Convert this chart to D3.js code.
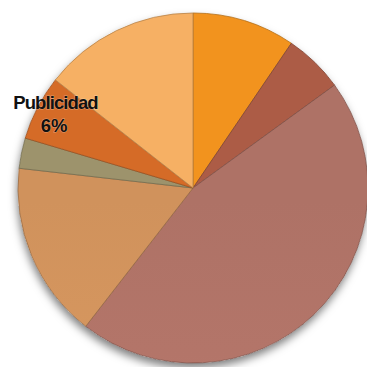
<!DOCTYPE html>
<html>
<head>
<meta charset="utf-8">
<script src="https://cdn.jsdelivr.net/npm/d3@7"></script>
<style>
  html, body { margin: 0; padding: 0; background: #fff; }
  svg { display: block; }
</style>
</head>
<body>
<script>
// Expense shares, clockwise from 12 o'clock
const categories = ["Materiales", "Transporte", "Salarios", "Alquiler", "Servicios", "Publicidad", "Otros"];
const shares = [9.5, 5.5, 45.5, 16.3, 2.8, 6, 14.4];
const colors = ["#F7961F", "#B05E48", "#B27468", "#D4955E", "#A0966E", "#DA6D28", "#FBB466"];
const labelled = ["Publicidad"];

const W = 367, H = 367;
const cx = 193, cy = 188, R = 175;

const svg = d3.select("body").append("svg").attr("width", W).attr("height", H);
const defs = svg.append("defs");

const shadow = defs.append("filter").attr("id", "shadow")
  .attr("x", "-20%").attr("y", "-20%").attr("width", "140%").attr("height", "140%");
shadow.append("feDropShadow").attr("dx", -1).attr("dy", 5).attr("stdDeviation", 4)
  .attr("flood-color", "#000").attr("flood-opacity", 0.5);

// Soft vertical shading on each slice: a touch darker at the top, lighter at the bottom
colors.forEach((c, i) => {
  const g = defs.append("linearGradient").attr("id", "g" + i)
    .attr("gradientUnits", "userSpaceOnUse")
    .attr("x1", 0).attr("y1", cy - R).attr("x2", 0).attr("y2", cy + R);
  g.append("stop").attr("offset", 0).attr("stop-color", d3.color(c).darker(0.06));
  g.append("stop").attr("offset", 1).attr("stop-color", d3.color(c).brighter(0.12));
});

const data = categories.map((name, i) => ({ name, value: shares[i], i }));
const pie = d3.pie().value(d => d.value).sort(null);
const arcs = pie(data);
const arc = d3.arc().innerRadius(0).outerRadius(R);

const g = svg.append("g").attr("transform", `translate(${cx},${cy})`);

g.append("circle").attr("r", R).attr("fill", "#fff").attr("filter", "url(#shadow)");

g.selectAll("path.slice").data(arcs).join("path")
  .attr("class", "slice")
  .attr("d", arc)
  .attr("fill", d => `url(#g${d.data.i})`)
  .attr("stroke", d => d3.color(colors[d.data.i]).darker(0.9))
  .attr("stroke-width", 0.8)
  .attr("stroke-linejoin", "round");

// Data label for the highlighted category
const total = d3.sum(shares);
const lab = svg.append("g");
arcs.filter(d => labelled.includes(d.data.name)).forEach(d => {
  const t = lab.append("text")
    .attr("x", 55).attr("y", 109)
    .attr("text-anchor", "middle")
    .attr("font-family", "Liberation Sans, Arial, sans-serif")
    .attr("font-weight", "bold")
    .attr("font-size", 18.5)
    .attr("fill", "#111")
    .attr("stroke", "rgba(255,255,255,0.35)")
    .attr("stroke-width", 1)
    .attr("paint-order", "stroke");
  t.append("tspan").attr("x", 55.5).attr("dy", 0).attr("letter-spacing", -0.9).text(d.data.name);
  t.append("tspan").attr("x", 54).attr("dy", 23).text(Math.round(d.data.value / total * 100) + "%");
});
</script>
</body>
</html>
